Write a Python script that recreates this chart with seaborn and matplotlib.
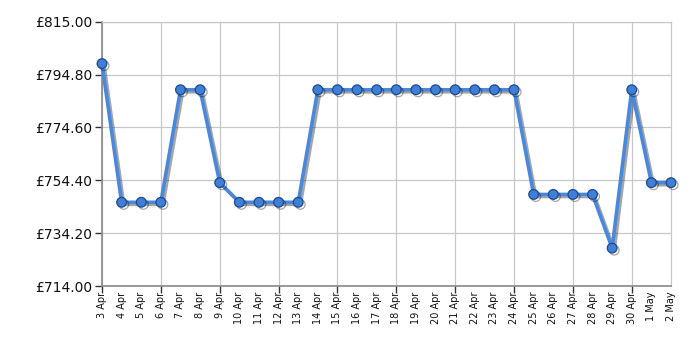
import matplotlib
matplotlib.use("Agg")
import matplotlib.pyplot as plt
import matplotlib.patheffects as pe
from matplotlib.ticker import FixedLocator, FuncFormatter
import seaborn as sns
import pandas as pd

dates = ["3 Apr", "4 Apr", "5 Apr", "6 Apr", "7 Apr", "8 Apr", "9 Apr", "10 Apr",
         "11 Apr", "12 Apr", "13 Apr", "14 Apr", "15 Apr", "16 Apr", "17 Apr",
         "18 Apr", "19 Apr", "20 Apr", "21 Apr", "22 Apr", "23 Apr", "24 Apr",
         "25 Apr", "26 Apr", "27 Apr", "28 Apr", "29 Apr", "30 Apr", "1 May", "2 May"]
prices = [798.99, 745.99, 745.99, 745.99, 788.99, 788.99, 753.49, 745.99,
          745.99, 745.99, 745.99, 788.99, 788.99, 788.99, 788.99,
          788.99, 788.99, 788.99, 788.99, 788.99, 788.99, 788.99,
          748.99, 748.99, 748.99, 748.99, 728.49, 788.99, 753.49, 753.49]
y_ticks = [714.00, 734.20, 754.40, 774.60, 794.80, 815.00]

sns.set_theme(style="white")
plt.rcParams["font.family"] = ["DejaVu Sans"]

df = pd.DataFrame({"idx": range(len(dates)), "price": prices})

fig = plt.figure(figsize=(7, 3.5), dpi=100)
ax = fig.add_axes([102 / 700, 1 - 286 / 350, (671 - 102) / 700, (286 - 21.7) / 350])

sns.lineplot(data=df, x="idx", y="price", ax=ax, color="#4a88dc", linewidth=2.6,
             marker="o", markersize=7, markeredgecolor="#1d4a90", markeredgewidth=0.9,
             markerfacecolor="#3f7fd6", clip_on=False, zorder=5,
             path_effects=[pe.SimpleLineShadow(offset=(1.5, -1.5), alpha=0.35, shadow_color="black"),
                           pe.Normal()])

ax.set_xlim(0, len(dates) - 1)
ax.set_ylim(y_ticks[0], y_ticks[-1])
ax.yaxis.set_major_locator(FixedLocator(y_ticks))
ax.yaxis.set_major_formatter(FuncFormatter(lambda v, p: f"\u00a3{v:.2f}"))

major = list(range(0, len(dates), 3))
ax.xaxis.remove_overlapping_locs = False
ax.xaxis.set_major_locator(FixedLocator(major))
ax.xaxis.set_minor_locator(FixedLocator(list(range(len(dates)))))
ax.xaxis.set_major_formatter(FuncFormatter(lambda v, p: ""))
ax.xaxis.set_minor_formatter(FuncFormatter(lambda v, p: dates[int(round(v))] if 0 <= int(round(v)) < len(dates) else ""))
ax.tick_params(axis="x", which="minor", length=0, labelsize=7, rotation=90, pad=4, labelcolor="#111111")
ax.tick_params(axis="x", which="major", length=5, width=1, color="#333333", bottom=True, pad=0)
ax.tick_params(axis="y", which="major", length=5, width=1, color="#333333", left=True, labelsize=10, pad=2, labelcolor="#111111")

ax.set_xlabel("")
ax.set_ylabel("")
ax.grid(True, which="major", color="#c8c8c8", linewidth=0.9)
for s in ["left", "bottom"]:
    ax.spines[s].set_color("#888888")
    ax.spines[s].set_linewidth(1.2)
for s in ["top", "right"]:
    ax.spines[s].set_color("#c8c8c8")
    ax.spines[s].set_linewidth(0.9)

fig.savefig("out.png", dpi=100)
